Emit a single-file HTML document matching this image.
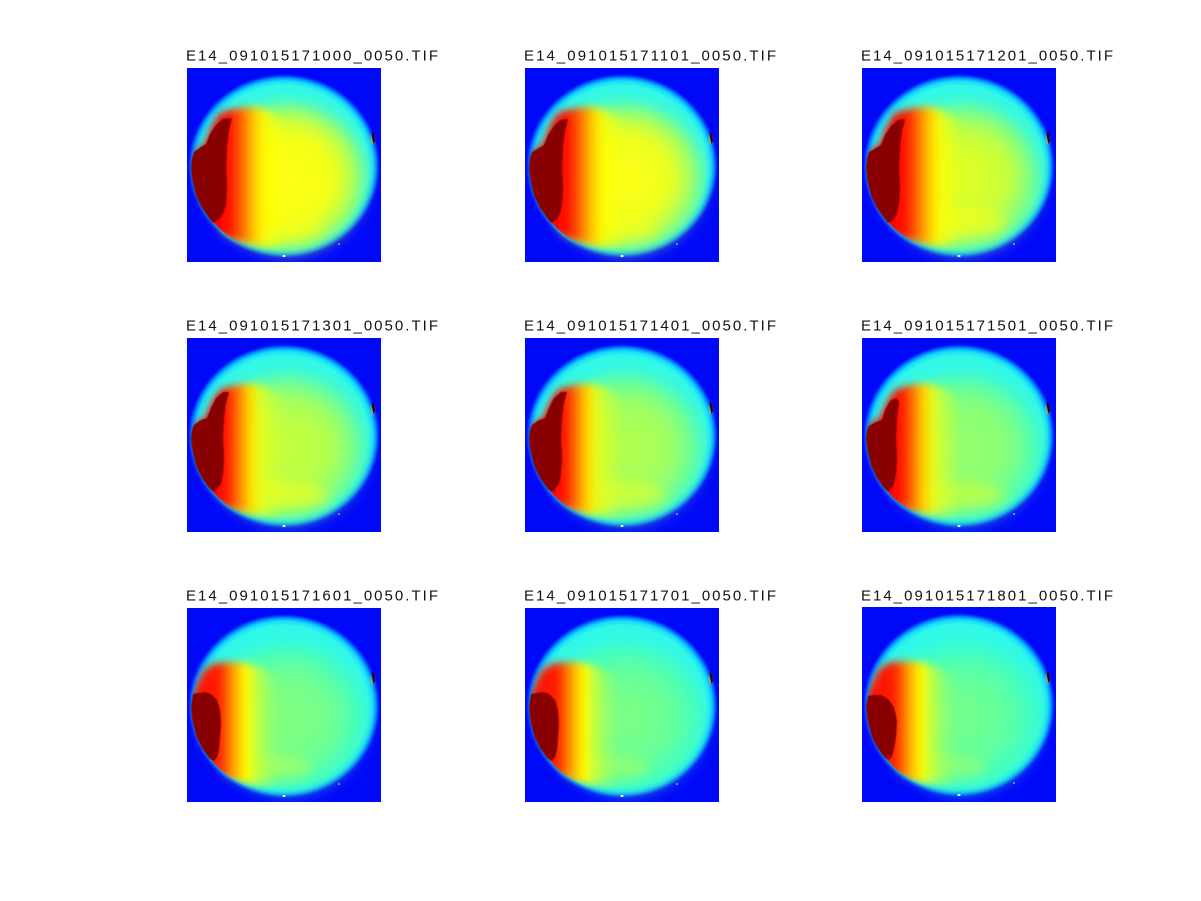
<!DOCTYPE html>
<html><head><meta charset="utf-8"><style>
html,body{margin:0;padding:0;background:#fff;}
svg{display:block;}
text{font-family:"Liberation Sans",Arial,sans-serif;font-size:15px;fill:#111;}
</style></head><body>
<svg width="1201" height="901" viewBox="0 0 1201 901" xmlns="http://www.w3.org/2000/svg">
<defs>
<filter id="b05" x="-10%" y="-10%" width="120%" height="120%"><feGaussianBlur stdDeviation="0.6"/></filter>
<filter id="b1" x="-50%" y="-50%" width="200%" height="200%"><feGaussianBlur stdDeviation="1"/></filter>
<filter id="b4" x="-20%" y="-20%" width="140%" height="140%"><feGaussianBlur stdDeviation="4"/></filter>
<filter id="b6" x="-30%" y="-30%" width="160%" height="160%"><feGaussianBlur stdDeviation="6"/></filter>
<filter id="b7" x="-30%" y="-30%" width="160%" height="160%"><feGaussianBlur stdDeviation="7"/></filter>
<clipPath id="cc"><ellipse cx="97" cy="98" rx="92" ry="88"/></clipPath>
<radialGradient id="rim" cx="0.5" cy="0.5" r="0.5">
 <stop offset="0" stop-color="#30f8e8"/>
 <stop offset="0.875" stop-color="#30f8e8"/>
 <stop offset="0.925" stop-color="#18d8ff"/>
 <stop offset="0.958" stop-color="#0090ff"/>
 <stop offset="0.984" stop-color="#0030fc"/>
 <stop offset="1" stop-color="#0008f8"/>
</radialGradient>
<radialGradient id="i1" cx="0.5" cy="0.5" r="0.5"><stop offset="0" stop-color="#ffff18"/><stop offset="0.55" stop-color="#f4ff14"/><stop offset="0.82" stop-color="#a8ff58"/><stop offset="1" stop-color="#a8ff58" stop-opacity="0"/></radialGradient>
<radialGradient id="i2" cx="0.5" cy="0.5" r="0.5"><stop offset="0" stop-color="#ffff18"/><stop offset="0.55" stop-color="#ecff1c"/><stop offset="0.82" stop-color="#98ff68"/><stop offset="1" stop-color="#98ff68" stop-opacity="0"/></radialGradient>
<radialGradient id="i3" cx="0.5" cy="0.5" r="0.5"><stop offset="0" stop-color="#e4ff24"/><stop offset="0.55" stop-color="#c8ff38"/><stop offset="0.82" stop-color="#80ff80"/><stop offset="1" stop-color="#80ff80" stop-opacity="0"/></radialGradient>
<radialGradient id="i4" cx="0.5" cy="0.5" r="0.5"><stop offset="0" stop-color="#c8ff38"/><stop offset="0.55" stop-color="#b0ff50"/><stop offset="0.82" stop-color="#70ff90"/><stop offset="1" stop-color="#70ff90" stop-opacity="0"/></radialGradient>
<radialGradient id="i5" cx="0.5" cy="0.5" r="0.5"><stop offset="0" stop-color="#b4ff4c"/><stop offset="0.55" stop-color="#a0ff60"/><stop offset="0.82" stop-color="#68ff98"/><stop offset="1" stop-color="#68ff98" stop-opacity="0"/></radialGradient>
<radialGradient id="i6" cx="0.5" cy="0.5" r="0.5"><stop offset="0" stop-color="#98ff68"/><stop offset="0.55" stop-color="#88ff78"/><stop offset="0.82" stop-color="#58ffa8"/><stop offset="1" stop-color="#58ffa8" stop-opacity="0"/></radialGradient>
<radialGradient id="i7" cx="0.5" cy="0.5" r="0.5"><stop offset="0" stop-color="#84ff7c"/><stop offset="0.55" stop-color="#70ff90"/><stop offset="0.82" stop-color="#48ffb8"/><stop offset="1" stop-color="#48ffb8" stop-opacity="0"/></radialGradient>
<radialGradient id="i8" cx="0.5" cy="0.5" r="0.5"><stop offset="0" stop-color="#80ff80"/><stop offset="0.55" stop-color="#68ff98"/><stop offset="0.82" stop-color="#48ffb8"/><stop offset="1" stop-color="#48ffb8" stop-opacity="0"/></radialGradient>
<radialGradient id="i9" cx="0.5" cy="0.5" r="0.5"><stop offset="0" stop-color="#78ff88"/><stop offset="0.55" stop-color="#60ffa0"/><stop offset="0.82" stop-color="#40ffc0"/><stop offset="1" stop-color="#40ffc0" stop-opacity="0"/></radialGradient>
<linearGradient id="gW1" gradientUnits="userSpaceOnUse" x1="0" y1="0" x2="120" y2="0">
 <stop offset="0" stop-color="#ff0000"/><stop offset="0.35" stop-color="#ff0800"/><stop offset="0.42" stop-color="#ff4000"/><stop offset="0.5" stop-color="#ff9000"/><stop offset="0.58" stop-color="#ffd800"/><stop offset="0.66" stop-color="#ffff00" stop-opacity="0.8"/><stop offset="0.83" stop-color="#ffff00" stop-opacity="0"/>
</linearGradient>
<linearGradient id="gW2" gradientUnits="userSpaceOnUse" x1="0" y1="0" x2="120" y2="0">
 <stop offset="0" stop-color="#ff0000"/><stop offset="0.32" stop-color="#ff0800"/><stop offset="0.39" stop-color="#ff4800"/><stop offset="0.46" stop-color="#ff9800"/><stop offset="0.53" stop-color="#ffe000"/><stop offset="0.62" stop-color="#f0ff10" stop-opacity="0.75"/><stop offset="0.82" stop-color="#e0ff20" stop-opacity="0"/>
</linearGradient>
<linearGradient id="gW3" gradientUnits="userSpaceOnUse" x1="0" y1="0" x2="120" y2="0">
 <stop offset="0" stop-color="#ff0800"/><stop offset="0.28" stop-color="#ff2000"/><stop offset="0.35" stop-color="#ff7000"/><stop offset="0.42" stop-color="#ffc000"/><stop offset="0.5" stop-color="#ffff00"/><stop offset="0.6" stop-color="#d8ff28" stop-opacity="0.65"/><stop offset="0.78" stop-color="#c0ff40" stop-opacity="0"/>
</linearGradient>
<path id="W1" d="M6,86 L18,76 L24,60 L32,46 C45,40 60,38 72,40 C84,43 95,50 105,60 L105,178 C80,180 55,176 30,166 L20,155 Z"/>
<path id="W2" d="M6,88 L18,80 L25,64 L33,52 C46,46 60,45 72,47 C84,50 95,57 105,66 L105,178 C80,180 55,176 30,166 L20,155 Z"/>
<path id="W3" d="M5,88 L10,76 L16,63 L26,56 C40,53 55,54 66,57 C78,61 88,68 98,76 L98,178 C80,180 55,176 30,166 L20,155 Z"/>
<path id="B1" d="M7,84 L14,79 L19,76 L23,66 L29,57 L36,51 L45,50 L42,62 L40,78 L39,100 L40,120 L39,136 L36,146 L31,152 L26,155 L22,150 L15,140 L10,130 L7,120 L5,110 L4,100 L5,90 Z"/>
<path id="B2" d="M7,84 L14,80 L19,77 L23,67 L29,58 L36,52 L43,51 L40,63 L38,78 L37,100 L38,120 L37,136 L35,146 L31,152 L26,155 L22,150 L15,140 L10,130 L7,120 L5,110 L4,100 L5,90 Z"/>
<path id="B4" d="M7,87 L14,82 L20,80 L24,70 L29,60 L36,54 L42,54 L39,65 L37,80 L36,100 L37,120 L36,136 L34,146 L30,151 L27,154 L22,150 L15,140 L10,130 L7,120 L5,110 L4,100 L5,92 Z"/>
<path id="B6" d="M7,88 L14,84 L20,82 L23,72 L28,63 L34,60 L37,64 L35,80 L34,100 L35,120 L34,136 L32,146 L29,151 L27,154 L22,150 L15,140 L10,130 L7,120 L5,110 L4,100 L5,92 Z"/>
<path id="B7" d="M6,86 L12,85 L18,84 L24,86 L30,92 L33,102 L34,115 L33,130 L32,142 L30,149 L27,153 L22,150 L15,140 L10,130 L7,120 L5,110 L4,100 L5,92 Z"/>
<path id="B9" d="M6,89 L12,88 L19,88 L26,92 L32,100 L35,114 L34,130 L32,142 L30,149 L27,153 L22,150 L15,140 L10,130 L7,120 L5,110 L4,100 L5,94 Z"/>
<g id="spot">
 <ellipse cx="185.5" cy="72" rx="1.6" ry="5" fill="#ffe000" opacity="0.5" filter="url(#b1)"/>
 <path d="M184.5,64 L187,66 L188,73 L186.5,76 L185.2,70 Z" fill="#300000"/>
 <ellipse cx="97" cy="188" rx="1.6" ry="1" fill="#e8ffff"/>
 <ellipse cx="152" cy="176" rx="0.8" ry="0.8" fill="#e8ffff"/>
</g>
</defs>

<!-- Row 1 -->
<text x="186" y="60.5" textLength="252" lengthAdjust="spacing">E14_091015171000_0050.TIF</text>
<g transform="translate(187,68)">
 <rect width="194" height="194" fill="#0008f8"/>
 <ellipse cx="97" cy="98" rx="96" ry="92" fill="url(#rim)"/>
 <ellipse cx="100" cy="110" rx="84" ry="80" fill="url(#i1)" filter="url(#b7)"/>
 <ellipse cx="85" cy="160" rx="50" ry="14" fill="#ffff10" opacity="0.5" filter="url(#b6)"/>
 <g clip-path="url(#cc)"><use href="#W1" fill="url(#gW1)" filter="url(#b4)"/></g>
 <use href="#B1" fill="#880000" filter="url(#b05)"/>
 <use href="#spot"/>
</g>

<text x="524" y="60.5" textLength="252" lengthAdjust="spacing">E14_091015171101_0050.TIF</text>
<g transform="translate(525,68)">
 <rect width="194" height="194" fill="#0008f8"/>
 <ellipse cx="97" cy="98" rx="96" ry="92" fill="url(#rim)"/>
 <ellipse cx="100" cy="110" rx="84" ry="80" fill="url(#i2)" filter="url(#b7)"/>
 <ellipse cx="85" cy="160" rx="50" ry="14" fill="#ffff10" opacity="0.5" filter="url(#b6)"/>
 <g clip-path="url(#cc)"><use href="#W1" fill="url(#gW1)" filter="url(#b4)"/></g>
 <use href="#B2" fill="#880000" filter="url(#b05)"/>
 <use href="#spot"/>
</g>

<text x="861" y="60.5" textLength="252" lengthAdjust="spacing">E14_091015171201_0050.TIF</text>
<g transform="translate(862,68)">
 <rect width="194" height="194" fill="#0008f8"/>
 <ellipse cx="97" cy="98" rx="96" ry="92" fill="url(#rim)"/>
 <ellipse cx="100" cy="110" rx="84" ry="80" fill="url(#i3)" filter="url(#b7)"/>
 <ellipse cx="95" cy="155" rx="50" ry="16" fill="#ffff10" opacity="0.55" filter="url(#b6)"/>
 <g clip-path="url(#cc)"><use href="#W1" fill="url(#gW1)" filter="url(#b4)"/></g>
 <use href="#B2" fill="#880000" filter="url(#b05)"/>
 <use href="#spot"/>
</g>

<!-- Row 2 -->
<text x="186" y="330.5" textLength="252" lengthAdjust="spacing">E14_091015171301_0050.TIF</text>
<g transform="translate(187,338)">
 <rect width="194" height="194" fill="#0008f8"/>
 <ellipse cx="97" cy="98" rx="96" ry="92" fill="url(#rim)"/>
 <ellipse cx="100" cy="110" rx="84" ry="80" fill="url(#i4)" filter="url(#b7)"/>
 <ellipse cx="90" cy="158" rx="52" ry="15" fill="#ffff10" opacity="0.55" filter="url(#b6)"/>
 <g clip-path="url(#cc)"><use href="#W2" fill="url(#gW2)" filter="url(#b4)"/></g>
 <use href="#B4" fill="#880000" filter="url(#b05)"/>
 <use href="#spot"/>
</g>

<text x="524" y="330.5" textLength="252" lengthAdjust="spacing">E14_091015171401_0050.TIF</text>
<g transform="translate(525,338)">
 <rect width="194" height="194" fill="#0008f8"/>
 <ellipse cx="97" cy="98" rx="96" ry="92" fill="url(#rim)"/>
 <ellipse cx="100" cy="110" rx="84" ry="80" fill="url(#i5)" filter="url(#b7)"/>
 <ellipse cx="90" cy="158" rx="52" ry="15" fill="#ffff10" opacity="0.45" filter="url(#b6)"/>
 <g clip-path="url(#cc)"><use href="#W2" fill="url(#gW2)" filter="url(#b4)"/></g>
 <use href="#B4" fill="#880000" filter="url(#b05)"/>
 <use href="#spot"/>
</g>

<text x="861" y="330.5" textLength="252" lengthAdjust="spacing">E14_091015171501_0050.TIF</text>
<g transform="translate(862,338)">
 <rect width="194" height="194" fill="#0008f8"/>
 <ellipse cx="97" cy="98" rx="96" ry="92" fill="url(#rim)"/>
 <ellipse cx="100" cy="110" rx="84" ry="80" fill="url(#i6)" filter="url(#b7)"/>
 <ellipse cx="100" cy="158" rx="45" ry="14" fill="#f0ff18" opacity="0.45" filter="url(#b6)"/>
 <g clip-path="url(#cc)"><use href="#W2" fill="url(#gW2)" filter="url(#b4)"/></g>
 <use href="#B6" fill="#880000" filter="url(#b05)"/>
 <use href="#spot"/>
</g>

<!-- Row 3 -->
<text x="186" y="600.5" textLength="252" lengthAdjust="spacing">E14_091015171601_0050.TIF</text>
<g transform="translate(187,608)">
 <rect width="194" height="194" fill="#0008f8"/>
 <ellipse cx="97" cy="98" rx="96" ry="92" fill="url(#rim)"/>
 <ellipse cx="100" cy="110" rx="84" ry="80" fill="url(#i7)" filter="url(#b7)"/>
 <ellipse cx="80" cy="160" rx="45" ry="13" fill="#e8ff20" opacity="0.35" filter="url(#b6)"/>
 <g clip-path="url(#cc)"><use href="#W3" fill="url(#gW3)" filter="url(#b4)"/></g>
 <use href="#B7" fill="#880000" filter="url(#b05)"/>
 <use href="#spot"/>
</g>

<text x="524" y="600.5" textLength="252" lengthAdjust="spacing">E14_091015171701_0050.TIF</text>
<g transform="translate(525,608)">
 <rect width="194" height="194" fill="#0008f8"/>
 <ellipse cx="97" cy="98" rx="96" ry="92" fill="url(#rim)"/>
 <ellipse cx="100" cy="110" rx="84" ry="80" fill="url(#i8)" filter="url(#b7)"/>
 <ellipse cx="80" cy="160" rx="45" ry="13" fill="#e8ff20" opacity="0.3" filter="url(#b6)"/>
 <g clip-path="url(#cc)"><use href="#W3" fill="url(#gW3)" filter="url(#b4)"/></g>
 <use href="#B7" fill="#880000" filter="url(#b05)"/>
 <use href="#spot"/>
</g>

<text x="861" y="600.5" textLength="252" lengthAdjust="spacing">E14_091015171801_0050.TIF</text>
<g transform="translate(862,607)">
 <rect width="194" height="195" fill="#0008f8"/>
 <ellipse cx="97" cy="98" rx="96" ry="92" fill="url(#rim)"/>
 <ellipse cx="100" cy="110" rx="84" ry="80" fill="url(#i9)" filter="url(#b7)"/>
 <ellipse cx="80" cy="160" rx="45" ry="13" fill="#e8ff20" opacity="0.3" filter="url(#b6)"/>
 <g clip-path="url(#cc)"><use href="#W3" fill="url(#gW3)" filter="url(#b4)"/></g>
 <use href="#B9" fill="#880000" filter="url(#b05)"/>
 <use href="#spot"/>
</g>
</svg>
</body></html>
